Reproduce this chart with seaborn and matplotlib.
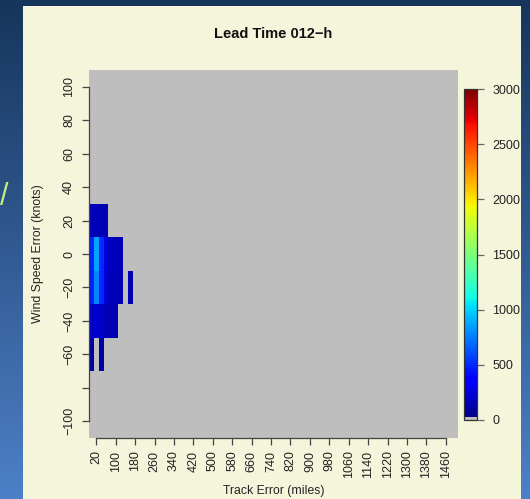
import numpy as np
import pandas as pd
import matplotlib
matplotlib.use("Agg")
import matplotlib.pyplot as plt
from matplotlib.colors import ListedColormap, LinearSegmentedColormap
from matplotlib.patches import Rectangle
import seaborn as sns

plt.rcParams["font.family"] = ["Liberation Sans", "DejaVu Sans"]

# Bin centres of the 2-D error histogram
track_error = np.arange(0, 1501, 20)       # miles
wind_error = np.arange(100, -101, -20)      # knots, listed top to bottom

# Counts for the first nine track-error bins (0-160 miles); all other bins are empty
counts_p20 = [160, 150, 150, 150, 0, 0, 0, 0, 0]
counts_0 = [480, 860, 500, 250, 170, 160, 150, 0, 0]
counts_m20 = [460, 780, 480, 240, 165, 155, 145, 0, 130]
counts_m40 = [210, 210, 200, 150, 140, 140, 0, 0, 0]
counts_m60 = [110, 0, 110, 0, 0, 0, 0, 0, 0]

x_ticks = np.arange(20, 1461, 80)
y_ticks = np.arange(100, -101, -20)
y_tick_labels = ["100", "80", "60", "40", "20", "0", "\u221220", "\u221240", "\u221260", "", "\u2212100"]
cbar_ticks = np.arange(0, 3001, 500)

grid = pd.DataFrame(0.0, index=wind_error, columns=track_error)
for w, row in [(20, counts_p20), (0, counts_0), (-20, counts_m20),
               (-40, counts_m40), (-60, counts_m60)]:
    grid.loc[w, track_error[:len(row)]] = row

# Jet palette with a grey level for empty bins
n_levels = 300
colors = [plt.get_cmap("jet")(i / (n_levels - 1)) for i in range(n_levels)]
colors[:3] = ["#BEBEBE"] * 3
cmap = ListedColormap(colors)

W, H = 530, 499
fig = plt.figure(figsize=(W / 100, H / 100), dpi=100)

# Slide background and panel
bg = fig.add_axes([0, 0, 1, 1], zorder=-10)
grad = np.linspace(0, 1, 256)[:, None]
bg.imshow(grad, aspect="auto", extent=[0, 1, 0, 1], origin="upper",
          cmap=LinearSegmentedColormap.from_list("slide", ["#16355C", "#4D80C8"]))
bg.add_patch(Rectangle((23 / W, 0), (521 - 23) / W, 493 / H, color="#F5F5DC", lw=0))
bg.text(4 / W, 1 - 197 / H, "/", color="#C5EE7E", fontsize=22, ha="center", va="center")
bg.set_xlim(0, 1)
bg.set_ylim(0, 1)
bg.axis("off")

ax = fig.add_axes([89 / W, 61 / H, 369 / W, 368 / H])
cax = fig.add_axes([464 / W, 79 / H, 13 / W, 331 / H])

sns.heatmap(grid, ax=ax, cmap=cmap, vmin=0, vmax=3000, cbar_ax=cax,
            cbar_kws={"ticks": cbar_ticks})

axis_col = "#444444"
text_col = "#222222"
tick_fs = 9

ax.set_xticks((x_ticks - track_error[0]) / 20 + 0.5)
ax.set_xticklabels([str(v) for v in x_ticks], rotation=90, fontsize=tick_fs, color=text_col)
ax.set_yticks((wind_error[0] - y_ticks) / 20 + 0.5)
ax.set_yticklabels(y_tick_labels, rotation=90, va="center", fontsize=tick_fs, color=text_col)
ax.tick_params(axis="x", length=5, width=0.9, color=axis_col, pad=4)
ax.tick_params(axis="y", length=5, width=0.9, color=axis_col, pad=5)
ax.set_xlabel("")
ax.set_ylabel("")

for side in ("left", "bottom"):
    ax.spines[side].set_visible(True)
    ax.spines[side].set_color(axis_col)
    ax.spines[side].set_linewidth(0.9)
ax.spines["left"].set_bounds(0.5, 10.5)
ax.spines["bottom"].set_bounds(1.5, 73.5)

cbar = ax.collections[0].colorbar
cbar.outline.set_linewidth(0.9)
cbar.outline.set_edgecolor("#333333")
cax.tick_params(length=5, width=0.9, color="#666666", labelsize=tick_fs,
                labelcolor=text_col, pad=6)
cax.set_ylim(0, 3000)

fig.text(273 / W, 1 - 34 / H, "Lead Time 012\u2212h", ha="center", va="center",
         fontsize=10.5, fontweight="bold", color="#111111")
fig.text(274 / W, 1 - 491 / H, "Track Error (miles)", ha="center", va="center",
         fontsize=8.8, color=text_col)
fig.text(38 / W, 1 - 254 / H, "Wind Speed Error (knots)", ha="center", va="center",
         rotation=90, fontsize=8.8, color=text_col)

fig.savefig("out.png", dpi=100)
